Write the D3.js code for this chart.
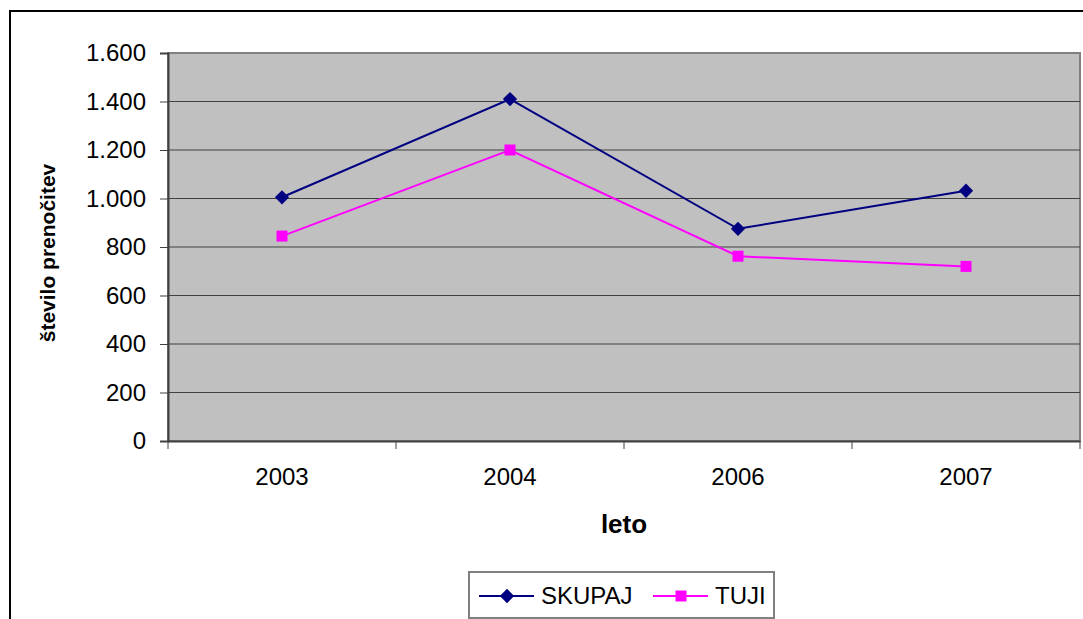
<!DOCTYPE html>
<html lang="sl">
<head>
<meta charset="utf-8">
<script src="https://d3js.org/d3.v7.min.js"></script>
<style>
  body { margin: 0; background: #fff; }
  svg { display: block; font-family: "Liberation Sans", Arial, sans-serif; }
</style>
</head>
<body>
<script>
// chart data
var years = ["2003", "2004", "2006", "2007"];
var skupaj = [1005, 1410, 875, 1032];
var tuji = [845, 1200, 762, 720];
var yTicks = [0, 200, 400, 600, 800, 1000, 1200, 1400, 1600];
var seriesNames = ["SKUPAJ", "TUJI"];

var w = 1083, h = 619;
var plot = { left: 168, right: 1080, top: 53, bottom: 441 };

var svg = d3.select("body").append("svg")
  .attr("width", w)
  .attr("height", h);

// outer frame
svg.append("rect")
  .attr("x", 10).attr("y", 11)
  .attr("width", 1090).attr("height", 640)
  .attr("fill", "none")
  .attr("stroke", "#000")
  .attr("stroke-width", 2);

var x = d3.scaleBand().domain(years).range([plot.left, plot.right]);
var y = d3.scaleLinear().domain([0, 1600]).range([plot.bottom, plot.top]);

var loc = d3.formatLocale({ decimal: ",", thousands: ".", grouping: [3], currency: ["", ""] });
var fmt = loc.format(",d");

// plot background
svg.append("rect")
  .attr("x", plot.left).attr("y", plot.top)
  .attr("width", plot.right - plot.left).attr("height", plot.bottom - plot.top)
  .attr("fill", "#c0c0c0")
  .attr("stroke", "#808080")
  .attr("stroke-width", 2);

// gridlines
svg.append("g").selectAll("line")
  .data(yTicks.filter(function(d) { return d > 0 && d < 1600; }))
  .join("line")
  .attr("x1", plot.left).attr("x2", plot.right)
  .attr("y1", function(d) { return y(d); })
  .attr("y2", function(d) { return y(d); })
  .attr("stroke", "#404040")
  .attr("stroke-width", 1);

// y axis
var yAxis = svg.append("g")
  .attr("transform", "translate(" + plot.left + ",0)")
  .call(d3.axisLeft(y).tickValues(yTicks).tickFormat(fmt).tickSize(8).tickPadding(14));
yAxis.select(".domain").attr("stroke", "#404040").attr("stroke-width", 2);
yAxis.selectAll(".tick line").attr("stroke", "#404040");
yAxis.selectAll("text").attr("font-size", 24).attr("fill", "#000")
  .attr("font-family", "Liberation Sans, Arial, sans-serif");

// x axis
var xAxis = svg.append("g")
  .attr("transform", "translate(0," + plot.bottom + ")")
  .call(d3.axisBottom(x).tickSize(0).tickPadding(27));
xAxis.select(".domain").attr("stroke", "#404040").attr("stroke-width", 2);
xAxis.selectAll("text").attr("font-size", 24).attr("fill", "#000")
  .attr("font-family", "Liberation Sans, Arial, sans-serif");

// category separators below the axis
svg.append("g").selectAll("line")
  .data(years.concat(["end"]))
  .join("line")
  .attr("x1", function(d, i) { return i < years.length ? x(d) : x(years[years.length - 1]) + x.bandwidth(); })
  .attr("x2", function(d, i) { return i < years.length ? x(d) : x(years[years.length - 1]) + x.bandwidth(); })
  .attr("y1", plot.bottom).attr("y2", plot.bottom + 8)
  .attr("stroke", "#404040");

// axis titles
svg.append("text")
  .attr("x", 624).attr("y", 533)
  .attr("text-anchor", "middle")
  .attr("font-size", 26).attr("font-weight", "bold")
  .text("leto");

svg.append("text")
  .attr("transform", "translate(55,253) rotate(-90)")
  .attr("text-anchor", "middle")
  .attr("font-size", 21).attr("font-weight", "bold")
  .text("število prenočitev");

var line = d3.line()
  .x(function(d, i) { return x(years[i]) + x.bandwidth() / 2; })
  .y(function(d) { return y(d); });

var colors = ["#000080", "#ff00ff"];
var data = [skupaj, tuji];
var diamond = d3.symbol().type(d3.symbolDiamond2).size(130);
var square = d3.symbol().type(d3.symbolSquare).size(121);
var shapes = [diamond, square];

data.forEach(function(vals, s) {
  svg.append("path")
    .datum(vals)
    .attr("d", line)
    .attr("fill", "none")
    .attr("stroke", colors[s])
    .attr("stroke-width", 2);
  svg.append("g").selectAll("path")
    .data(vals)
    .join("path")
    .attr("transform", function(d, i) {
      return "translate(" + (x(years[i]) + x.bandwidth() / 2) + "," + y(d) + ")";
    })
    .attr("d", shapes[s]())
    .attr("fill", colors[s]);
});

// legend
var lg = svg.append("g");
lg.append("rect")
  .attr("x", 469).attr("y", 572)
  .attr("width", 305).attr("height", 46)
  .attr("fill", "#fff")
  .attr("stroke", "#808080")
  .attr("stroke-width", 2);

var legendX = [479, 653];
seriesNames.forEach(function(name, s) {
  var lx = legendX[s];
  lg.append("line")
    .attr("x1", lx).attr("x2", lx + 55)
    .attr("y1", 596).attr("y2", 596)
    .attr("stroke", colors[s]).attr("stroke-width", 2);
  lg.append("path")
    .attr("transform", "translate(" + (lx + 28) + ",596)")
    .attr("d", shapes[s]())
    .attr("fill", colors[s]);
  lg.append("text")
    .attr("x", lx + 62).attr("y", 604)
    .attr("font-size", 24)
    .text(name);
});
</script>
</body>
</html>
